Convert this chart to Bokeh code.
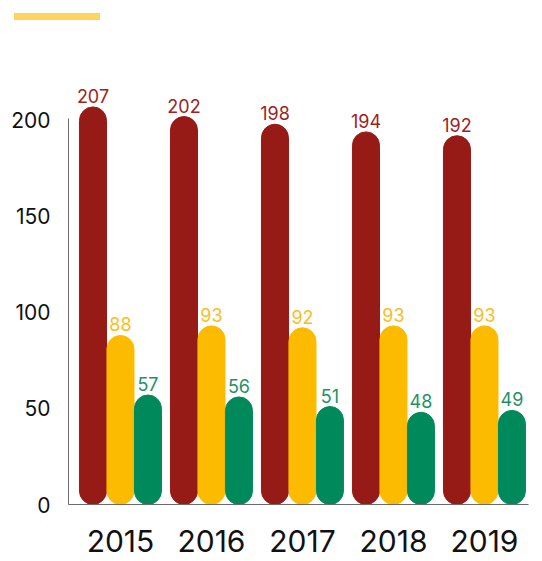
import numpy as np
from bokeh.plotting import figure
from bokeh.layouts import column
from bokeh.models import Div, Range1d, FixedTicker, ColumnDataSource
from bokeh.core.properties import value
from bokeh.embed import file_html
from bokeh.resources import INLINE

years = ["2015", "2016", "2017", "2018", "2019"]
series_a = [207, 202, 198, 194, 192]
series_b = [88, 93, 92, 93, 93]
series_c = [57, 56, 51, 48, 49]
y_ticks = [0, 50, 100, 150, 200]

colors = ["#961B16", "#FDBB00", "#008A5B"]
label_colors = ["#9E221C", "#F7BE1E", "#1F9165"]
offsets = [-0.302, 0.0, 0.302]
FONT = "Inter"

p = figure(width=534, height=541, output_backend="svg", toolbar_location=None,
           x_range=Range1d(-0.571, 4.484), y_range=Range1d(0, 252),
           min_border_left=68, min_border_right=6, min_border_top=0, min_border_bottom=57)
p.outline_line_color = None
p.grid.grid_line_color = None
p.background_fill_color = "white"

idx = np.arange(len(years))
for vals, col, lcol, off in zip([series_a, series_b, series_c], colors, label_colors, offsets):
    src = ColumnDataSource(dict(x=idx + off, top=vals, lab=[str(v) for v in vals]))
    p.vbar(x="x", top="top", bottom=0, width=0.297, color=col, border_radius=14, source=src)
    p.text(x="x", y="top", text="lab", source=src, text_align="center", text_baseline="bottom",
           y_offset=-4, text_font=value(FONT), text_font_size="18px", text_color=lcol)

xa = p.xaxis[0]
xa.ticker = FixedTicker(ticks=list(idx))
xa.major_label_overrides = {int(i): y for i, y in zip(idx, years)}
xa.major_tick_line_color = None
xa.minor_tick_line_color = None
xa.major_tick_out = 0
xa.major_label_standoff = 25
xa.major_label_text_font = FONT
xa.major_label_text_font_size = "30px"
xa.major_label_text_color = "#111111"
xa.axis_line_color = "#6b6b6b"

ya = p.yaxis[0]
ya.ticker = FixedTicker(ticks=y_ticks)
ya.bounds = (0, 201)
ya.major_tick_line_color = None
ya.minor_tick_line_color = None
ya.major_tick_out = 0
ya.major_label_standoff = 18
ya.major_label_text_font = FONT
ya.major_label_text_font_size = "21px"
ya.major_label_text_color = "#111111"
ya.axis_line_color = "#6b6b6b"

bar = Div(text="", width=86, height=7, margin=(13, 0, 0, 14),
          styles={"background-color": "#FFD35C"})

layout = column(bar, p)
open("out.html", "w").write(file_html(layout, INLINE))
